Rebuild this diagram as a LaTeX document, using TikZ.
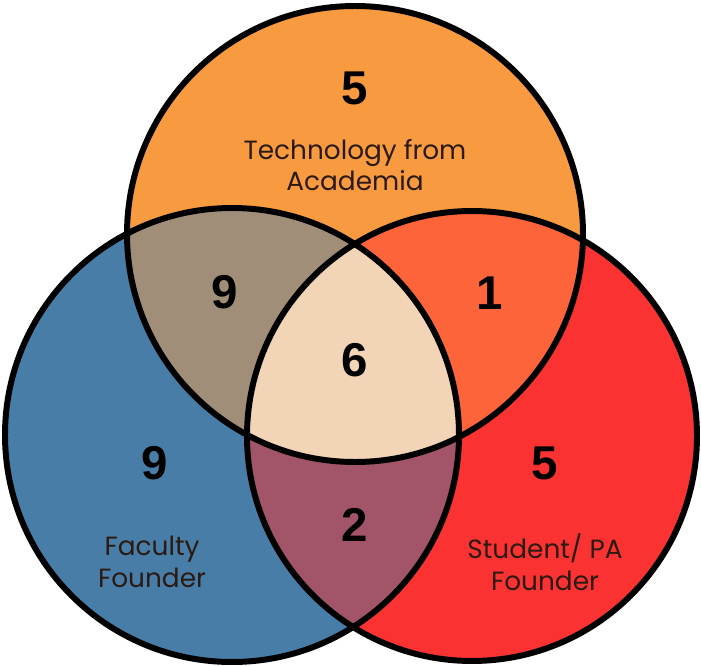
\documentclass[tikz,border=0pt]{standalone}
\usepackage{fontspec}
\setmainfont{Poppins}
\newfontfamily\numfont{Liberation Sans}
\definecolor{ctop}{HTML}{F89B40}
\definecolor{cleft}{HTML}{487DA8}
\definecolor{cright}{HTML}{FA3232}
\definecolor{ctl}{HTML}{A08E78}
\definecolor{ctr}{HTML}{FD643A}
\definecolor{clr}{HTML}{A25468}
\definecolor{cmid}{HTML}{F2D4B7}
\definecolor{ctext}{HTML}{2A1A12}
\tikzset{
  num/.style={font=\numfont\bfseries\fontsize{27}{27}\selectfont, text=black, inner sep=0pt},
  lbl/.style={font=\fontsize{15}{18}\selectfont, align=center, text=ctext, inner sep=0pt},
  ring/.style={draw=black, line width=3.4pt}
}
\begin{document}
\begin{tikzpicture}[x=0.02cm, y=-0.02cm]
\useasboundingbox (0,0) rectangle (701,666);
\def\TopC{(355,234) circle [radius=228]}
\def\LeftC{(232,435) circle [radius=227]}
\def\RightC{(472,436) circle [radius=225]}
\fill[ctop] \TopC;
\fill[cleft] \LeftC;
\fill[cright] \RightC;
\begin{scope}
  \clip \TopC;
  \fill[ctl] \LeftC;
  \fill[ctr] \RightC;
\end{scope}
\begin{scope}
  \clip \LeftC;
  \fill[clr] \RightC;
  \clip \RightC;
  \fill[cmid] \TopC;
\end{scope}
\draw[ring] \TopC;
\draw[ring] \LeftC;
\draw[ring] \RightC;
\node[num] (ntop) at (355,88) {5};
\node[lbl] (ltop) at (355,165) {Technology from\\Academia};
\node[num] (ntl) at (225,292) {9};
\node[num] (ntr) at (490,293) {1};
\node[num] (nmid) at (355,360) {6};
\node[num] (nleft) at (155,463) {9};
\node[num] (nright) at (545,463) {5};
\node[num] (nlr) at (355,525) {2};
\node[lbl] (lleft) at (152,562) {Faculty\\Founder};
\node[lbl] (lright) at (545,562) {Student/ PA\\Founder};
\end{tikzpicture}
\end{document}
